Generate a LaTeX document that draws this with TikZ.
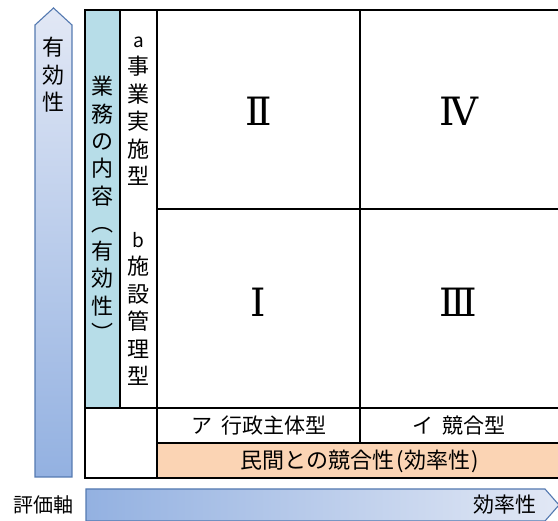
\documentclass[tikz,border=0pt]{standalone}
\usepackage{fontspec}
\newfontfamily\jp{Noto Sans CJK JP}
\newfontfamily\rn{DejaVu Serif}
\definecolor{arrline}{HTML}{5479B0}
\definecolor{arrlight}{HTML}{E2E8F5}
\definecolor{arrdark}{HTML}{93B1E1}
\definecolor{cyancol}{HTML}{B7DDE8}
\definecolor{peach}{HTML}{FBD4B4}
\tikzset{
  grid/.style={line width=1.6pt, black},
  vtext/.style={font=\jp\fontsize{22}{27.5}\selectfont, align=center, inner sep=0pt},
  htext/.style={font=\jp\fontsize{21}{24}\selectfont, inner sep=0pt},
  roman/.style={font=\rn\fontsize{39}{40}\selectfont, inner sep=0pt},
}
\begin{document}
\begin{tikzpicture}[x=1pt,y=-1pt]
\useasboundingbox (0,0) rectangle (558,521);
% vertical arrow
\path[draw=arrline, line width=1.1pt, top color=arrlight, bottom color=arrdark]
  (35,477) -- (35,25) -- (53.5,8) -- (72,25) -- (72,477) -- cycle;
% horizontal arrow
\path[draw=arrline, line width=1.1pt, left color=arrdark, right color=arrlight]
  (86,489) -- (545,489) -- (559,505) -- (545,521) -- (86,521) -- cycle;
% fills
\fill[cyancol] (85,10) rectangle (120,408);
\fill[peach] (157,443) rectangle (558,478);
% grid lines
\draw[grid] (558,10) -- (85,10) -- (85,478) -- (558,478);
\draw[grid] (120,10) -- (120,408);
\draw[grid] (157,10) -- (157,478);
\draw[grid] (360,10) -- (360,443);
\draw[grid] (157,209) -- (558,209);
\draw[grid] (85,408) -- (558,408);
\draw[grid] (157,443) -- (558,443);
% texts
\node[vtext] (eff) at (53.5,75) {有\\効\\性};
\node[vtext] (gyomu) at (102.5,209) {業\\務\\の\\内\\容\\︵\\有\\効\\性\\︶};
\node[vtext] (a) at (138.5,111) {\fontsize{19}{27.5}\selectfont a\\事\\業\\実\\施\\型};
\node[vtext] (b) at (138.5,309) {\fontsize{19}{27.5}\selectfont b\\施\\設\\管\\理\\型};
\node[roman] (r2) at (258.5,111) {Ⅱ};
\node[roman] (r4) at (458.5,111) {Ⅳ};
\node[roman] (r1) at (258.5,302) {Ⅰ};
\node[roman] (r3) at (458.5,302) {Ⅲ};
\node[htext] (ga) at (259,426) {ア\hspace{0.45em}行政主体型};
\node[htext] (gi) at (459,426) {イ\hspace{0.45em}競合型};
\node[htext, font=\jp\fontsize{22}{24}\selectfont] (minkan) at (360,461) {民間との競合性\kern2pt(\kern1pt効率性\kern1pt)};
\node[htext, font=\jp\fontsize{20}{22}\selectfont] (hyoka) at (43,505) {評価軸};
\node[htext] (kouritsu) at (505,505) {効率性};
\end{tikzpicture}
\end{document}
